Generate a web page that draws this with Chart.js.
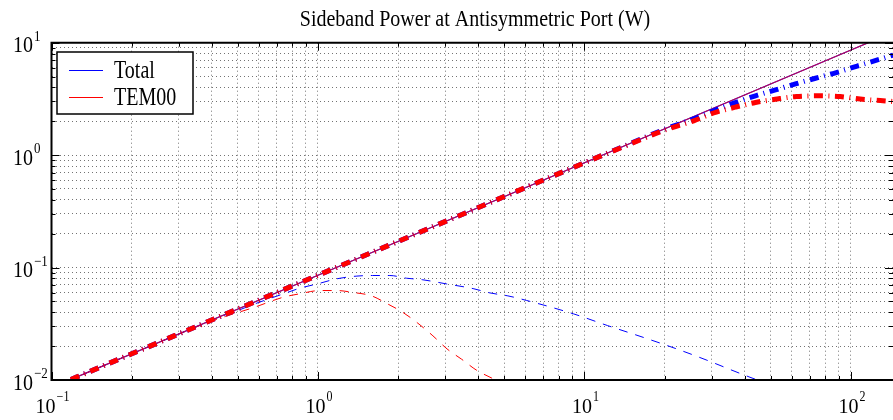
<!DOCTYPE html>
<html>
<head>
<meta charset="utf-8">
<script src="https://cdn.jsdelivr.net/npm/chart.js@4.4.1/dist/chart.umd.min.js"></script>
<style>
html,body{margin:0;padding:0;background:#fff;}
#wrap{width:893px;height:420px;position:relative;}
</style>
</head>
<body>
<div id="wrap"><canvas id="c" width="893" height="420"></canvas></div>
<script>
// ---------- text ----------
const chartTitle = 'Sideband Power at Antisymmetric Port (W)';
const legendLabels = ['Total', 'TEM00'];

// ---------- axes ----------
const xMin = 0.1, xMax = 143.8;
const yMin = 0.01, yMax = 10;
const xTickValues = [0.1,0.2,0.3,0.4,0.5,0.6,0.7,0.8,0.9,1,2,3,4,5,6,7,8,9,10,20,30,40,50,60,70,80,90,100];
const yTickValues = [0.01,0.02,0.03,0.04,0.05,0.06,0.07,0.08,0.09,0.1,0.2,0.3,0.4,0.5,0.6,0.7,0.8,0.9,1,2,3,4,5,6,7,8,9,10];
const xLabelValues = [0.1, 1, 10, 100];
const xLabelExps = ['\u22121', '0', '1', '2'];
const yLabelValues = [0.01, 0.1, 1, 10];
const yLabelExps = ['\u22122', '\u22121', '0', '1'];

// ---------- thin solid lines (Total, TEM00) ----------
const solidX = [0.1, 1, 10, 100, 143.8];
const totalSolidY = [0.00855, 0.0855, 0.855, 8.6, 12.4];
const tem00SolidY = [0.00855, 0.0855, 0.855, 8.6, 12.4];

// ---------- thick dash-dot lines ----------
const totalThickX = [0.1, 0.2, 0.5, 1, 2, 5, 10, 15, 20, 25.7, 30.5, 36.3, 43.8, 52.1, 61.9, 73.6, 87.5, 105.5, 128.8, 143.8];
const totalThickY = [0.00855, 0.0171, 0.0428, 0.0855, 0.171, 0.428, 0.855, 1.28, 1.70, 2.10, 2.48, 2.90, 3.37, 3.80, 4.30, 4.83, 5.40, 6.20, 7.15, 7.75];
const tem00ThickX = [0.1, 0.2, 0.5, 1, 2, 5, 10, 15, 20, 25.7, 30.5, 36.8, 43.8, 52.9, 62.4, 75.6, 91.2, 108.3, 128.8, 143.8];
const tem00ThickY = [0.00855, 0.0171, 0.0428, 0.0855, 0.171, 0.428, 0.855, 1.27, 1.67, 2.02, 2.37, 2.67, 2.94, 3.16, 3.32, 3.37, 3.32, 3.15, 3.06, 3.00];

// ---------- thin dashed lines ----------
const totalDashX = [0.1, 0.2, 0.3, 0.4, 0.45, 0.5, 0.6, 0.741, 0.856, 1.0, 1.175, 1.4, 1.6, 1.86, 2.15, 2.46, 3.04, 3.82, 4.42, 5.16, 6.06, 9.08, 12.2, 17.2, 22.9, 28.8, 38.5, 44.5, 52];
const totalDashY = [0.00855, 0.0171, 0.0256, 0.0340, 0.0380, 0.0415, 0.0490, 0.0583, 0.0656, 0.0718, 0.0794, 0.0840, 0.0850, 0.0850, 0.0804, 0.0780, 0.0715, 0.0650, 0.0595, 0.0560, 0.0510, 0.0388, 0.0305, 0.0233, 0.0184, 0.0150, 0.0114, 0.0100, 0.0087];
const tem00DashX = [0.1, 0.2, 0.3, 0.4, 0.45, 0.5, 0.572, 0.741, 0.856, 1.017, 1.175, 1.357, 1.59, 1.81, 2.08, 2.37, 2.70, 3.05, 3.46, 3.94, 4.49, 5.0];
const tem00DashY = [0.00855, 0.0171, 0.0256, 0.0335, 0.0368, 0.0398, 0.0440, 0.0545, 0.0585, 0.0625, 0.0625, 0.0600, 0.0560, 0.0480, 0.0400, 0.0320, 0.0247, 0.0189, 0.0153, 0.0122, 0.0104, 0.0092];

const BLUE = '#0000ff';
const RED = '#ff0000';
const FONT = '"Liberation Serif", "Times New Roman", serif';

function pts(xs, ys) { return xs.map((x, i) => ({ x: x, y: ys[i] })); }
function isDecade(v) { const l = Math.log10(v); return Math.abs(l - Math.round(l)) < 1e-9; }

function sText(ctx, text, x, y, size, vScale, align) {
  ctx.save();
  ctx.font = size + 'px ' + FONT;
  ctx.textAlign = align || 'left';
  ctx.textBaseline = 'alphabetic';
  ctx.fillStyle = '#000';
  ctx.translate(x, y);
  ctx.scale(1, vScale);
  ctx.fillText(text, 0, 0);
  ctx.restore();
}
function measure(ctx, text, size) {
  ctx.save(); ctx.font = size + 'px ' + FONT; const w = ctx.measureText(text).width; ctx.restore(); return w;
}

const decor = {
  id: 'decor',
  afterDraw(chart) {
    const ctx = chart.ctx, a = chart.chartArea, xs = chart.scales.x, ys = chart.scales.y;
    ctx.save();
    // inward tick marks
    ctx.strokeStyle = '#000';
    ctx.lineWidth = 1;
    ctx.beginPath();
    xTickValues.forEach(v => {
      const px = Math.round(xs.getPixelForValue(v)) + 0.5;
      const len = isDecade(v) ? 8 : 4;
      ctx.moveTo(px, a.bottom); ctx.lineTo(px, a.bottom - len);
      ctx.moveTo(px, a.top); ctx.lineTo(px, a.top + len);
    });
    yTickValues.forEach(v => {
      const py = Math.round(ys.getPixelForValue(v)) + 0.5;
      const len = isDecade(v) ? 8 : 4;
      ctx.moveTo(a.left, py); ctx.lineTo(a.left + len, py);
      ctx.moveTo(a.right, py); ctx.lineTo(a.right - len, py);
    });
    ctx.stroke();
    // axes box (left, bottom, top)
    ctx.lineWidth = 2;
    ctx.beginPath();
    ctx.moveTo(a.right + 2, a.top); ctx.lineTo(a.left, a.top); ctx.lineTo(a.left, a.bottom); ctx.lineTo(a.right + 2, a.bottom);
    ctx.stroke();

    // title
    sText(ctx, chartTitle, 475, 26, 20, 1.2, 'center');

    // x tick labels
    xLabelValues.forEach((v, i) => {
      const px = xs.getPixelForValue(v);
      const bw = measure(ctx, '10', 20), sw = measure(ctx, xLabelExps[i], 12);
      const left = px + 1 - (bw + sw + 1) / 2;
      sText(ctx, '10', left, 412.7, 20, 1.07, 'left');
      sText(ctx, xLabelExps[i], left + bw + 1, 400.7, 12, 1.15, 'left');
    });
    // y tick labels
    yLabelValues.forEach((v, i) => {
      const py = ys.getPixelForValue(v);
      sText(ctx, '10', 13, py + 9.5, 20, 1.2, 'left');
      sText(ctx, yLabelExps[i], 34, py - 2, 13, 1.15, 'left');
    });

    // legend box
    ctx.fillStyle = '#fff';
    ctx.fillRect(57, 52, 136, 62);
    ctx.strokeStyle = '#000';
    ctx.lineWidth = 1.5;
    ctx.strokeRect(57, 52, 136, 62);
    const legendColors = [BLUE, RED];
    const legendY = [70, 97];
    legendLabels.forEach((lab, i) => {
      ctx.strokeStyle = legendColors[i];
      ctx.lineWidth = 1.2;
      ctx.setLineDash([]);
      ctx.beginPath();
      ctx.moveTo(69, legendY[i] + 0.5); ctx.lineTo(103, legendY[i] + 0.5);
      ctx.stroke();
      sText(ctx, lab, 114, legendY[i] + 8, 20, 1.25, 'left');
    });
    ctx.restore();
  }
};

const gridCfg = { color: 'rgba(0,0,0,0.55)', lineWidth: 1, drawTicks: false };

new Chart(document.getElementById('c'), {
  type: 'line',
  data: {
    datasets: [
      { label: legendLabels[1], data: pts(tem00ThickX, tem00ThickY), borderColor: RED, borderWidth: 5, borderDash: [9, 5.5, 1, 5.5], cubicInterpolationMode: 'monotone', order: 1 },
      { label: legendLabels[0], data: pts(totalThickX, totalThickY), borderColor: BLUE, borderWidth: 5, borderDash: [9, 5.5, 1, 5.5], cubicInterpolationMode: 'monotone', order: 2 },
      { label: legendLabels[1], data: pts(solidX, tem00SolidY), borderColor: 'rgba(230,0,40,0.8)', borderWidth: 1.2, order: 3 },
      { label: legendLabels[0], data: pts(solidX, totalSolidY), borderColor: BLUE, borderWidth: 1.2, order: 4 },
      { label: legendLabels[1], data: pts(tem00DashX, tem00DashY), borderColor: RED, borderWidth: 1, borderDash: [9, 8], cubicInterpolationMode: 'monotone', order: 5 },
      { label: legendLabels[0], data: pts(totalDashX, totalDashY), borderColor: BLUE, borderWidth: 1, borderDash: [9, 8], cubicInterpolationMode: 'monotone', order: 6 }
    ]
  },
  options: {
    responsive: false,
    animation: false,
    devicePixelRatio: 1,
    layout: { padding: { left: 51.5, right: 0, top: 42.7, bottom: 40 } },
    elements: { point: { radius: 0, hoverRadius: 0 }, line: { fill: false } },
    plugins: { legend: { display: false }, title: { display: false }, tooltip: { enabled: false } },
    scales: {
      x: {
        type: 'logarithmic', min: xMin, max: xMax,
        afterBuildTicks: s => { s.ticks = xTickValues.map(v => ({ value: v, major: isDecade(v) })); },
        ticks: { display: false },
        grid: gridCfg,
        border: { display: false, dash: [1, 3] }
      },
      y: {
        type: 'logarithmic', min: yMin, max: yMax,
        afterBuildTicks: s => { s.ticks = yTickValues.map(v => ({ value: v, major: isDecade(v) })); },
        ticks: { display: false },
        grid: gridCfg,
        border: { display: false, dash: [1, 3] }
      }
    }
  },
  plugins: [decor]
});
</script>
</body>
</html>
